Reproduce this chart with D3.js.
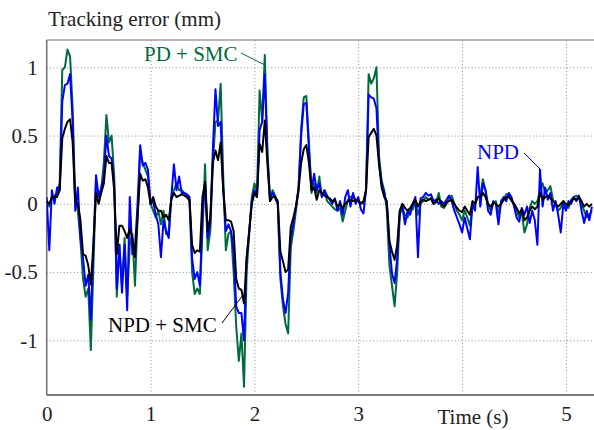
<!DOCTYPE html>
<html>
<head>
<meta charset="utf-8">
<script src="https://d3js.org/d3.v7.min.js"></script>
<style>
  body { margin: 0; background: #fff; }
  svg text { font-family: "Liberation Serif", "DejaVu Serif", serif !important; }
  .grid line { stroke: #8c8c8c; stroke-width: 1; stroke-dasharray: 1,2.4; }
  .grid path { display: none; }
  .lbl text { font-size: 21px; fill: #222; }
  .lbl path { display: none; }
</style>
</head>
<body>
<script>
// sampling step of the recorded signals (s)
var dt = 0.025;

// tracking error (mm), NPD + SMC controller (black)
var npdSmc = [
  0.02, 0.0, 0.05, 0.05, 0.05, 0.1, 0.48, 0.55, 0.6, 0.62,
  0.45, 0.02, 0.0, -0.12, -0.37, -0.38, -0.45, -0.59, -0.3, 0.08,
  0.0, 0.08, 0.15, 0.35, 0.3, 0.3, 0.1, -0.37, -0.16, -0.16,
  -0.2, -0.25, -0.18, -0.25, -0.39, -0.1, 0.22, 0.17, 0.18, 0.12,
  0.0, 0.05, -0.02, -0.05, -0.05, -0.1, -0.08, -0.12, 0.03, 0.08,
  0.05, 0.06, 0.07, 0.06, 0.05, 0.03, -0.3, -0.36, -0.34, -0.35,
  0.05, 0.16, -0.2, -0.1, 0.3, 0.39, 0.32, 0.45, 0.1, -0.12,
  -0.12, -0.13, -0.2, -0.55, -0.62, -0.63, -0.73, -0.4, -0.2, 0.0,
  0.08, 0.05, 0.44, 0.38, 0.61, 0.3, 0.02, 0.05, 0.05, 0.02,
  -0.35, -0.42, -0.5, -0.48, -0.17, -0.1, -0.02, 0.1, 0.3, 0.4,
  0.43, 0.3, 0.1, 0.12, 0.03, 0.1, 0.08, 0.06, 0.05, 0.04,
  0.02, 0.03, -0.02, 0.0, -0.03, 0.0, 0.02, 0.03, 0.02, 0.03,
  0.02, 0.0, 0.02, 0.1, 0.49, 0.52, 0.55, 0.5, 0.29, 0.12,
  0.05, 0.02, -0.27, -0.35, -0.41, -0.3, -0.05, 0.0, -0.03, -0.05,
  -0.03, 0.0, 0.03, -0.02, 0.02, 0.03, 0.02, 0.03, 0.04, 0.0,
  0.02, 0.04, 0.0, -0.02, 0.01, 0.02, 0.03, 0.0, -0.03, -0.05,
  -0.06, -0.02, -0.05, -0.08, 0.02, 0.0, 0.05, 0.05, 0.08, 0.05,
  0.0, -0.02, 0.01, 0.0, -0.02, 0.0, 0.03, 0.05, 0.05, 0.03,
  0.0, -0.03, -0.07, -0.04, -0.12, -0.1, -0.05, -0.02, -0.04, -0.02,
  0.08, 0.03, 0.05, 0.06, 0.04, 0.02, 0.0, -0.02, 0.0, 0.02,
  0.0, -0.01, 0.02, 0.04, 0.03, 0.05, 0.02, -0.02, 0.0, -0.02,
  0.0
];

// tracking error (mm), NPD controller (blue)
var npd = [
  0.05, -0.34, 0.1, 0.0, 0.12, 0.1, 0.75, 0.87, 0.88, 0.95,
  0.6, -0.05, 0.12, -0.25, -0.4, -0.6, -0.52, -0.85, -0.3, 0.21,
  0.05, 0.12, 0.2, 0.5, 0.35, 0.33, 0.15, -0.62, -0.3, -0.65,
  -0.3, -0.78, 0.05, -0.37, -0.32, 0.0, 0.43, 0.28, 0.3, 0.25,
  0.0, 0.02, -0.08, -0.15, -0.39, -0.12, -0.2, -0.25, 0.05, 0.29,
  0.1, 0.2, 0.08, 0.08, 0.07, 0.05, -0.4, -0.55, -0.5, -0.6,
  -0.1, 0.16, -0.25, -0.15, 0.4, 0.84, 0.57, 0.6, 0.1, -0.2,
  -0.15, -0.2, -0.35, -0.75, -0.8, -0.8, -1.0, -0.4, -0.2, 0.02,
  0.1, 0.05, 0.54, 0.6, 0.95, 0.35, 0.05, 0.08, 0.04, 0.0,
  -0.5, -0.7, -0.8, -0.65, -0.25, -0.15, -0.02, 0.12, 0.5, 0.73,
  0.74, 0.4, 0.1, 0.22, 0.1, 0.15, 0.05, 0.1, 0.06, 0.03,
  0.0, 0.04, -0.05, 0.02, -0.08, 0.05, 0.1, -0.02, 0.08, 0.0,
  0.05, -0.04, -0.07, 0.1, 0.8, 0.78, 0.77, 0.7, 0.3, 0.15,
  0.08, 0.0, -0.3, -0.51, -0.58, -0.4, -0.05, -0.02, -0.15, -0.05,
  -0.08, 0.0, 0.05, -0.39, 0.04, 0.05, 0.08, 0.06, 0.07, 0.02,
  0.03, 0.0, 0.02, 0.0, 0.03, 0.06, 0.02, -0.05, -0.1, -0.15,
  -0.21, -0.1, -0.18, -0.26, 0.0, -0.05, 0.27, -0.02, 0.15, 0.1,
  -0.05, -0.08, 0.02, 0.0, -0.15, 0.02, 0.05, 0.02, 0.08, 0.05,
  -0.02, -0.1, -0.13, -0.03, -0.08, -0.02, -0.14, -0.05, -0.12, -0.3,
  0.25, -0.02, 0.12, 0.03, 0.08, -0.05, 0.02, -0.08, -0.21, 0.0,
  -0.05, 0.02, 0.0, 0.05, 0.02, 0.06, -0.05, -0.14, -0.05, -0.12,
  -0.02
];

// tracking error (mm), PD + SMC controller (green)
var pdSmc = [
  0.02, -0.02, 0.05, 0.06, 0.08, 0.15, 0.98, 1.0, 1.13, 1.08,
  0.7, 0.02, -0.05, -0.27, -0.55, -0.68, -0.62, -1.07, -0.45, 0.17,
  0.05, 0.1, 0.3, 0.65, 0.45, 0.5, 0.2, -0.68, -0.3, -0.6,
  -0.25, -0.68, -0.3, -0.22, -0.6, -0.1, 0.37, 0.3, 0.25, 0.2,
  0.0, -0.05, -0.1, -0.05, -0.15, -0.05, -0.22, -0.2, 0.05, 0.1,
  0.15, 0.1, 0.1, 0.08, 0.05, 0.02, -0.5, -0.66, -0.62, -0.66,
  -0.2, 0.29, -0.34, -0.2, 0.3, 0.6, 0.61, 0.88, 0.2, -0.34,
  -0.22, -0.2, -0.5, -0.9, -1.15, -0.95, -1.34, -0.5, -0.22, 0.05,
  0.15, 0.08, 0.83, 0.61, 1.09, 0.4, 0.02, 0.1, 0.06, 0.0,
  -0.55, -0.75, -0.88, -0.95, -0.32, -0.2, -0.05, 0.1, 0.55, 0.78,
  0.79, 0.45, 0.08, 0.15, 0.08, 0.2, 0.05, 0.1, 0.02, 0.0,
  -0.02, -0.04, -0.05, -0.03, -0.13, -0.05, 0.03, 0.05, 0.06, 0.03,
  0.02, 0.01, 0.0, 0.1, 0.95, 0.88, 0.92, 1.0, 0.35, 0.17,
  0.1, -0.05, -0.45, -0.6, -0.75, -0.5, -0.08, -0.03, -0.08, -0.1,
  -0.05, -0.04, 0.02, -0.08, 0.0, 0.02, 0.05, 0.03, 0.04, 0.0,
  0.01, 0.08, -0.02, -0.03, 0.0, 0.04, 0.06, 0.0, -0.05, -0.08,
  -0.12, -0.05, -0.1, -0.16, -0.02, 0.0, 0.05, 0.06, 0.18, 0.1,
  0.0, -0.05, 0.0, 0.02, -0.07, 0.0, 0.03, 0.07, 0.07, 0.02,
  0.0, -0.05, -0.1, -0.06, -0.21, -0.15, -0.03, 0.02, 0.0, 0.02,
  0.1, 0.15, 0.08, 0.1, 0.13, 0.03, 0.0, -0.05, -0.03, 0.02,
  -0.02, -0.03, 0.03, 0.05, 0.06, 0.04, 0.0, -0.05, -0.1, -0.08,
  -0.05
];

var yTicks = [-1, -0.5, 0, 0.5, 1];
var xTicks = [0, 1, 2, 3, 5];
var xGrid = [1, 2, 3, 4, 5];

var W = 594, H = 430;
var margin = {top: 40, right: 0, bottom: 35, left: 46.7};
var serif = "'Liberation Serif', 'DejaVu Serif', serif";

var svg = d3.select("body").append("svg")
    .attr("width", W)
    .attr("height", H);

var x = d3.scaleLinear().domain([0, 5.27]).range([margin.left, W - margin.right]);
var y = d3.scaleLinear().domain([-1.4, 1.2]).range([H - margin.bottom, margin.top]);

// dotted grid
svg.append("g")
    .attr("class", "grid")
    .attr("transform", "translate(0," + (H - margin.bottom) + ")")
    .call(d3.axisBottom(x).tickValues(xGrid).tickSize(-(H - margin.bottom - margin.top)).tickFormat(""));

svg.append("g")
    .attr("class", "grid")
    .attr("transform", "translate(" + margin.left + ",0)")
    .call(d3.axisLeft(y).tickValues(yTicks).tickSize(-(W - margin.left - margin.right)).tickFormat(""));

// frame: top, left and bottom
svg.append("line")
    .attr("x1", margin.left).attr("x2", W)
    .attr("y1", margin.top).attr("y2", margin.top)
    .attr("stroke", "#6e6e6e").attr("stroke-width", 1.2);
svg.append("line")
    .attr("x1", margin.left).attr("x2", margin.left)
    .attr("y1", margin.top).attr("y2", H - margin.bottom)
    .attr("stroke", "#6e6e6e").attr("stroke-width", 1.5);
svg.append("line")
    .attr("x1", margin.left).attr("x2", W)
    .attr("y1", H - margin.bottom).attr("y2", H - margin.bottom)
    .attr("stroke", "#7a7a7a").attr("stroke-width", 2.2);

// tick labels
svg.append("g")
    .attr("class", "lbl")
    .attr("font-family", serif)
    .attr("transform", "translate(" + (margin.left - 9) + ",0)")
    .call(d3.axisLeft(y).tickValues(yTicks).tickSize(0).tickPadding(0).tickFormat(String));

svg.append("g")
    .attr("class", "lbl")
    .attr("font-family", serif)
    .attr("transform", "translate(0," + (H - margin.bottom + 11) + ")")
    .call(d3.axisBottom(x).tickValues(xTicks).tickSize(0).tickPadding(0).tickFormat(String));

// clip for the signals
svg.append("clipPath").attr("id", "clip")
  .append("rect")
    .attr("x", margin.left).attr("y", margin.top)
    .attr("width", W - margin.left).attr("height", H - margin.top - margin.bottom);

var line = d3.line()
    .x(function(d, i) { return x(i * dt); })
    .y(function(d) { return y(d); });

var series = [
  {name: "PD + SMC", values: pdSmc, color: "#006b3a"},
  {name: "NPD", values: npd, color: "#0000ff"},
  {name: "NPD + SMC", values: npdSmc, color: "#000000"}
];

svg.append("g")
    .attr("clip-path", "url(#clip)")
  .selectAll("path")
    .data(series)
  .enter().append("path")
    .attr("fill", "none")
    .attr("stroke", function(d) { return d.color; })
    .attr("stroke-width", 2)
    .attr("stroke-linejoin", "round")
    .attr("d", function(d) { return line(d.values); });

// titles
svg.append("text")
    .attr("x", 48).attr("y", 26)
    .style("font-family", serif)
    .style("font-size", "21px").attr("fill", "#222")
    .text("Tracking error (mm)");

svg.append("text")
    .attr("x", 473).attr("y", 424)
    .attr("text-anchor", "middle")
    .style("font-family", serif)
    .style("font-size", "21px").attr("fill", "#222")
    .text("Time (s)");

// callouts
var notes = [
  {text: "PD + SMC", color: "#006b3a", tx: 144, ty: 61, x1: 241, y1: 53, x2: 265, y2: 65},
  {text: "NPD", color: "#0000ff", tx: 477, ty: 159, x1: 524, y1: 153, x2: 541, y2: 170},
  {text: "NPD + SMC", color: "#000000", tx: 108, ty: 332, x1: 222, y1: 323, x2: 243, y2: 295}
];

notes.forEach(function(n) {
  svg.append("text")
      .attr("x", n.tx).attr("y", n.ty)
      .style("font-family", serif)
      .style("font-size", "21px")
      .attr("fill", n.color)
      .text(n.text);
  svg.append("line")
      .attr("x1", n.x1).attr("y1", n.y1)
      .attr("x2", n.x2).attr("y2", n.y2)
      .attr("stroke", n.color).attr("stroke-width", 1);
});
</script>
</body>
</html>
